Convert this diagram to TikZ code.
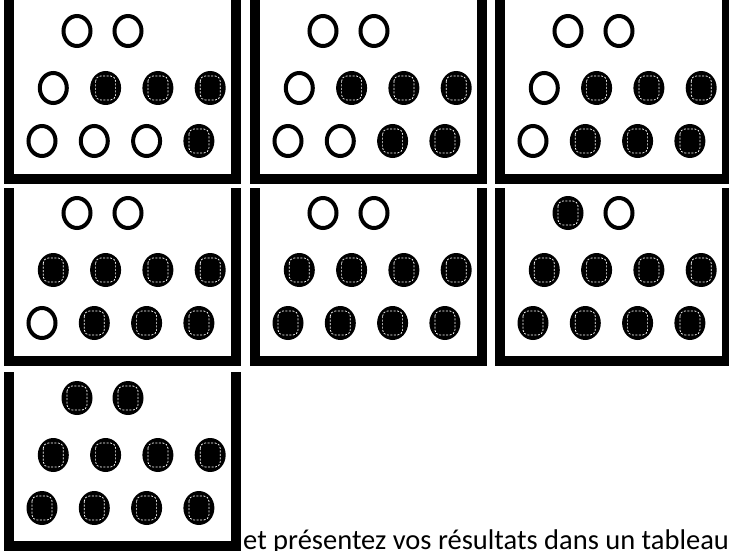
\documentclass[tikz,border=0pt]{standalone}
\usepackage{fontspec}
\setmainfont{Carlito}

% une bille : vide (0) ou pleine (1)
\newcommand{\bille}[3]{%
  \ifnum#3=0
    \draw[vide] (#1,#2) ellipse (13.5 and 15);
  \else
    \fill[plein] (#1,#2) ellipse (15.5 and 17);
    \draw[pointille] (#1-10,#2-12) rectangle (#1+10,#2+12);
  \fi}

% un bac : bord gauche, haut, fond, puis les trois rangees
\newcommand{\bac}[6]{%
  \draw[paroi] (#1-5,#2) -- (#1-5,#3+5) -- (#1+222,#3+5) -- (#1+222,#2);
  \foreach \s [count=\i] in {#4} \bille{#1+12+51*\i}{#3-143}{\s};
  \foreach \s [count=\i] in {#5} \bille{#1-13+52.3*\i}{#3-86}{\s};
  \foreach \s [count=\i] in {#6} \bille{#1-24.3+52.3*\i}{#3-33}{\s};
}

\begin{document}
\begin{tikzpicture}[x=1pt, y=-1pt,
    paroi/.style={line width=10pt, black},
    vide/.style={line width=4pt, black},
    plein/.style={black},
    pointille/.style={white, line width=0.7pt, rounded corners=5pt, dash pattern=on 2pt off 1.5pt}]
    \useasboundingbox (0,0) rectangle (729,551);

    % Premiere rangee
    \bac{14}{-5}{174}{0,0}{0,1,1,1}{0,0,0,1}
    \bac{260}{-5}{174}{0,0}{0,1,1,1}{0,0,1,1}
    \bac{505}{-5}{174}{0,0}{0,1,1,1}{0,1,1,1}

    % Deuxieme rangee
    \bac{14}{188}{356}{0,0}{1,1,1,1}{0,1,1,1}
    \bac{260}{188}{356}{0,0}{1,1,1,1}{1,1,1,1}
    \bac{505}{188}{356}{1,0}{1,1,1,1}{1,1,1,1}

    % Troisieme rangee
    \bac{14}{372}{541}{1,1}{1,1,1,1}{1,1,1,1}

    % Consigne
    \node[anchor=base west, inner sep=0pt, font=\fontsize{28.5}{28.5}\selectfont] (consigne) at (243,549) {et présentez vos résultats dans un tableau};
\end{tikzpicture}
\end{document}
